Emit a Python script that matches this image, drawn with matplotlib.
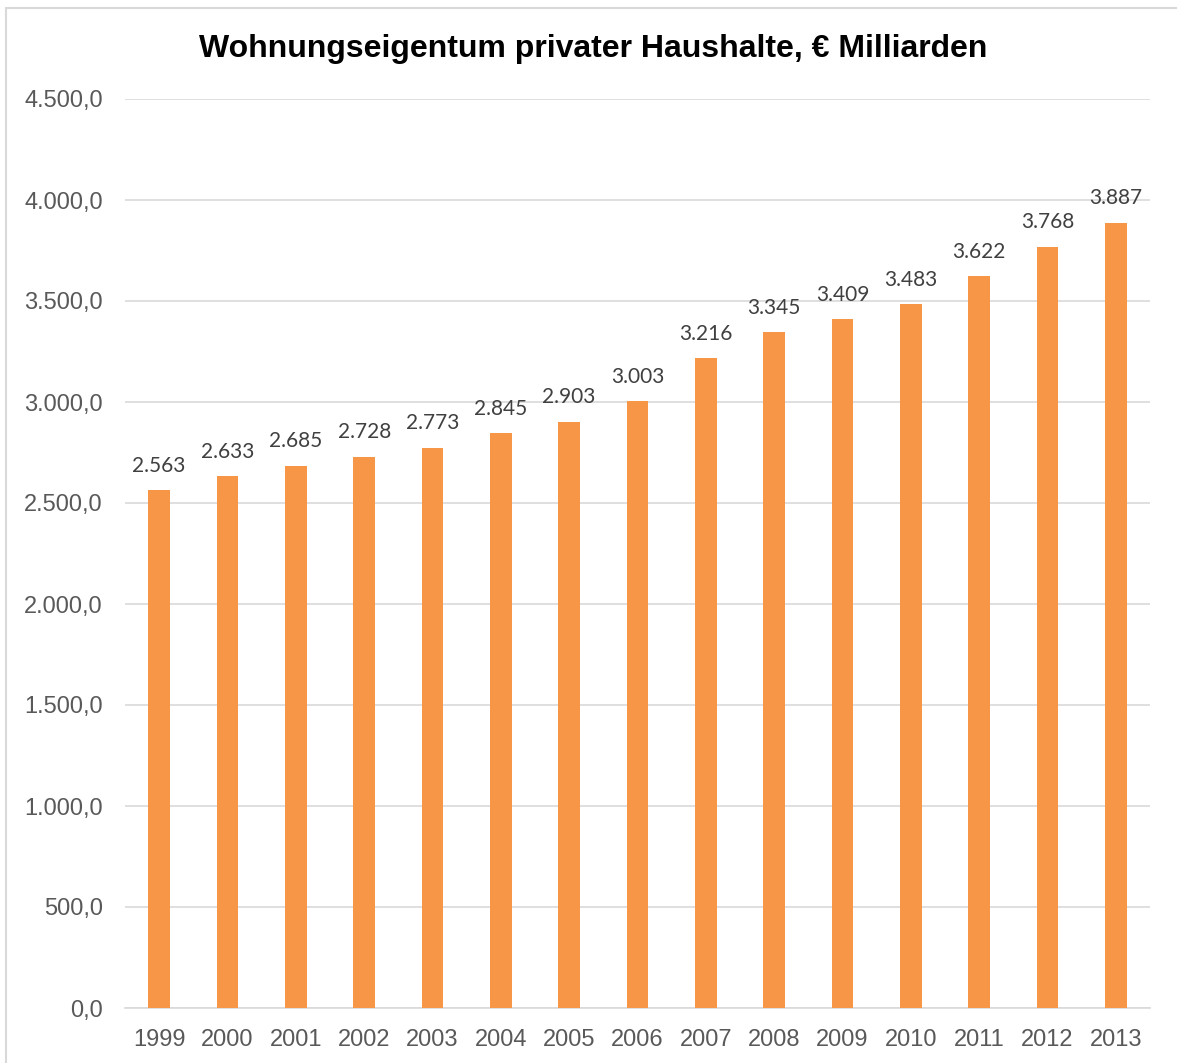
import matplotlib.pyplot as plt
import matplotlib.ticker as mticker
from matplotlib.patches import Rectangle

years = ["1999", "2000", "2001", "2002", "2003", "2004", "2005", "2006",
         "2007", "2008", "2009", "2010", "2011", "2012", "2013"]
values = [2563, 2633, 2685, 2728, 2773, 2845, 2903, 3003,
          3216, 3345, 3409, 3483, 3622, 3768, 3887]
y_ticks = [0, 500, 1000, 1500, 2000, 2500, 3000, 3500, 4000, 4500]

plt.rcParams["font.family"] = ["Liberation Sans", "DejaVu Sans"]

W, H = 1177, 1063
dpi = 100
fig = plt.figure(figsize=(W / dpi, H / dpi), dpi=dpi)

# chart frame like the Excel chart area
fig.patches.append(Rectangle((6 / W, -0.01), 1.2, (H - 8) / H + 0.01, transform=fig.transFigure,
                             facecolor="none", edgecolor="#D9D9D9", linewidth=1.5, zorder=-1))

left, right, top, bottom = 125, 1150, 99, 1008
ax = fig.add_axes([left / W, 1 - bottom / H, (right - left) / W, (bottom - top) / H], zorder=2)
ax.set_facecolor("none")

x = range(len(years))
bars = ax.bar(x, values, width=0.32, color="#F79646", zorder=3)
ax.set_xlim(-0.5, len(years) - 0.5)
ax.set_ylim(0, 4500)

ax.set_yticks(y_ticks)
ax.yaxis.set_major_formatter(mticker.FuncFormatter(
    lambda v, p: "{:,.1f}".format(v).replace(",", "X").replace(".", ",").replace("X", ".")))
ax.set_xticks(list(x))
ax.set_xticklabels(years)

ax.grid(axis="y", color="#D9D9D9", linewidth=1.2, zorder=0)
for s in ["top", "right", "left"]:
    ax.spines[s].set_visible(False)
ax.spines["bottom"].set_color("#D9D9D9")
ax.spines["bottom"].set_linewidth(1.2)
ax.tick_params(axis="both", length=0, colors="#595959", labelsize=17)
ax.tick_params(axis="y", pad=16)
ax.tick_params(axis="x", pad=15)

for xi, v in zip(x, values):
    ax.annotate("{:,}".format(v).replace(",", "."), (xi, v), xytext=(0, 10.5),
                textcoords="offset points", ha="center", va="bottom",
                fontsize=15, color="#404040", family="Lato")

fig.text(593 / W, 1 - 49 / H, "Wohnungseigentum privater Haushalte, € Milliarden",
         ha="center", va="center", fontsize=23, fontweight="bold", color="black")

fig.savefig("out.png", dpi=dpi)
